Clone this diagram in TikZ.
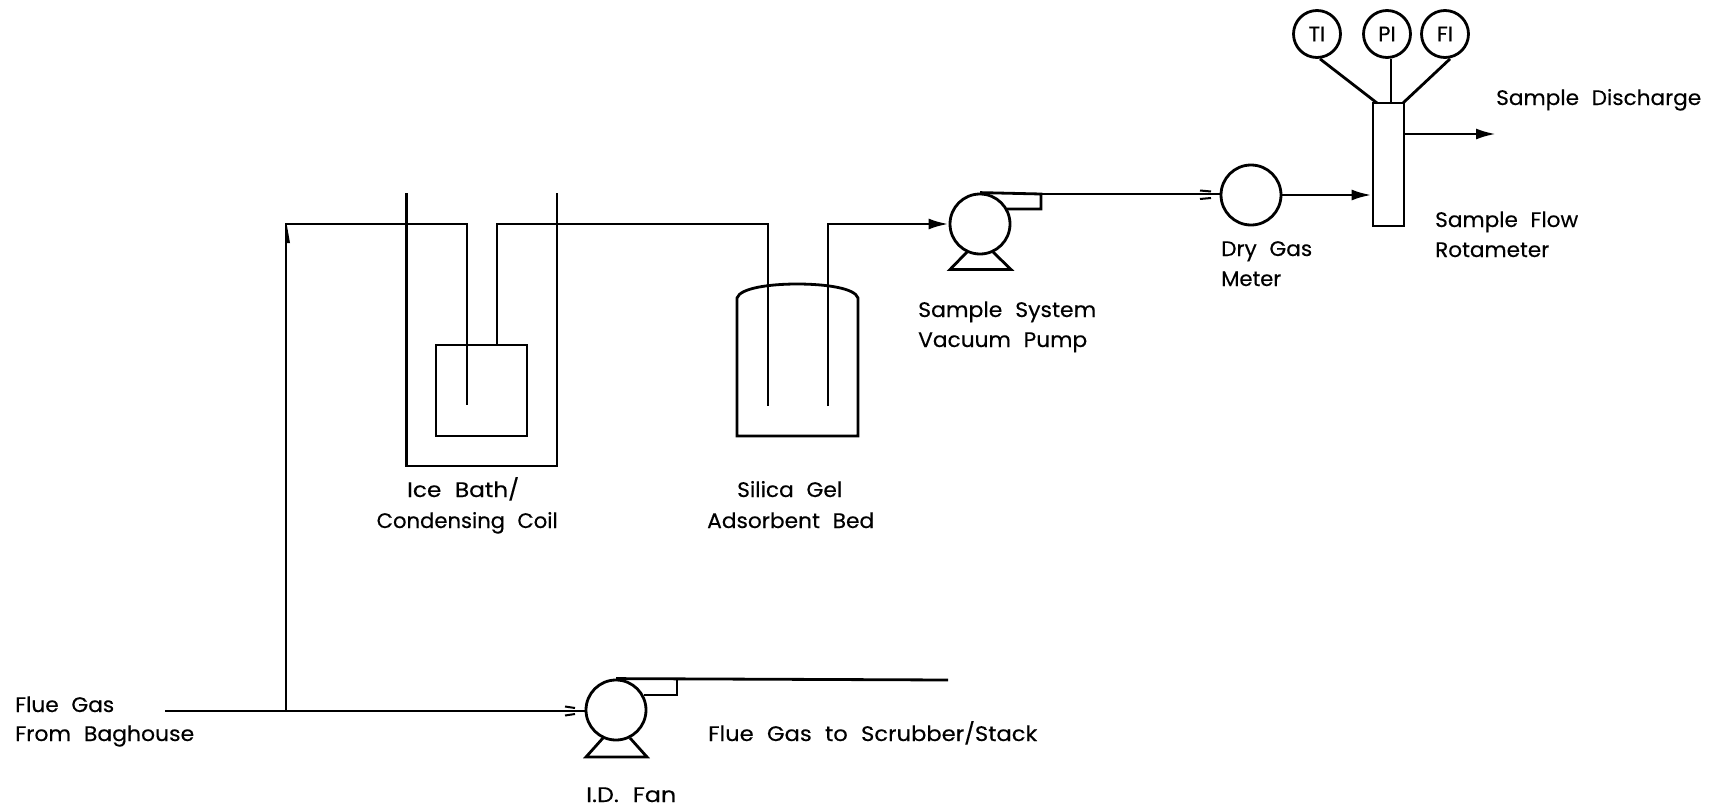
\documentclass[tikz,border=0pt]{standalone}
\usepackage{fontspec}
\setmainfont{Poppins}[WordSpace=2.2,FakeBold=0.35]
\usetikzlibrary{arrows.meta}
\newsavebox{\fitbox}
\newcommand{\fitw}[2]{\sbox{\fitbox}{#2}\pgfmathsetmacro{\fitr}{#1/\the\wd\fitbox}\scalebox{\fitr}[1]{\usebox{\fitbox}}}
\tikzset{
  x=1pt,y=-1pt,
  pipe/.style={draw=black,line width=2.8pt,line join=miter},
  flow/.style={pipe,-{Latex[length=20pt,width=11pt]}},
  tick/.style={draw=black,line width=2pt},
  vessel/.style={circle,draw=black,line width=2.8pt,minimum size=60pt,inner sep=0pt},
  gauge/.style={circle,draw=black,line width=2.8pt,minimum size=47pt,inner sep=0pt,font=\fontsize{21}{23}\selectfont},
  lbl/.style={anchor=base west,inner sep=0pt,font=\fontsize{21}{24}\selectfont},
}
\begin{document}
\begin{tikzpicture}
\useasboundingbox (0,0) rectangle (1722,811);
% equipment
\node[vessel] (pump) at (980,224) {};
\node[vessel] (meter) at (1251,195) {};
\node[vessel] (fan) at (616,710) {};
\node[gauge] (ti) at (1317,34) {TI};
\node[gauge] (pi) at (1387,34) {PI};
\node[gauge] (fi) at (1445,34) {FI};
\node[draw=black,line width=2.8pt,minimum width=31pt,minimum height=123pt,inner sep=0pt] (rota) at (1388.5,164.5) {};
% ice bath
\coordinate (iceTL) at (406.5,193);
\coordinate (iceBL) at (406.5,466);
\coordinate (iceBR) at (557,466);
\coordinate (iceTR) at (557,193);
\draw[pipe] (iceTL) -- (iceBL) -- (iceBR) -- (iceTR);
\node[draw=black,line width=2.8pt,minimum width=91pt,minimum height=91pt,inner sep=0pt] (coil) at (481.5,390.5) {};
% silica bed
\coordinate (bedL) at (737,298);
\coordinate (bedR) at (858,298);
\coordinate (bedBL) at (737,436);
\coordinate (bedBR) at (858,436);
\draw[pipe] (bedBL) -- (bedL) .. controls (740,288) and (770,284) .. (797,284) .. controls (825,284) and (855,288) .. (bedR) -- (bedBR) -- cycle;
% flue line
\coordinate (fstart) at (165,711);
\coordinate (tee) at (286,711);
\coordinate (corner) at (286,224);
\coordinate (coilIn) at (467,224);
\coordinate (coilInEnd) at (467,405);
\coordinate (coilOut) at (497,345);
\coordinate (coilOutTop) at (497,224);
\coordinate (bedInTop) at (768,224);
\coordinate (bedInEnd) at (768,406);
\coordinate (bedOutEnd) at (828,406);
\coordinate (bedOutTop) at (828,224);
\draw[pipe] (fstart) -- (fan.west |- fstart);
\draw[pipe] (tee) -- (corner) -- (coilIn) -- (coilInEnd);
\draw[pipe] (coilOut) -- (coilOutTop) -- (bedInTop) -- (bedInEnd);
\draw[pipe] (bedOutEnd) -- (bedOutTop) -- (840,224);
\draw[flow] (bedOutTop) -- (pump.west);
\fill[black] (287,226) -- (290,243) -- (287,243) -- cycle;
% faint arrow marks
\draw[tick] (565,706.5) -- (575,708);
\draw[tick] (565,715.5) -- (575,714);
\draw[tick] (1200,190.5) -- (1211,191.5);
\draw[tick] (1200,199) -- (1211,198);
% pump outlet
\coordinate (pj) at (1041,194);
\coordinate (pl) at (1041,209);
\coordinate (pk) at (1007,209);
\draw[pipe] (pump.north) -- (pj) -- (pl) -- (pk);
\draw[pipe] (pj) -- (meter.west |- pj);
\draw[flow] (meter.east) -- (rota.west |- meter.east);
% fan outlet
\coordinate (fj) at (677,680);
\coordinate (fl) at (677,695);
\coordinate (fk) at (644,695);
\coordinate (fend) at (948,680);
\draw[pipe] (fan.north) -- (fend);
\draw[pipe] (fj) -- (fl) -- (fk);
% bases
\coordinate (pb1) at (967,252);
\coordinate (pb2) at (950,269.5);
\coordinate (pb3) at (1011,269.5);
\coordinate (pb4) at (993,252);
\draw[pipe] (pb1) -- (pb2) -- (pb3) -- (pb4);
\coordinate (fb1) at (603,738);
\coordinate (fb2) at (586,757);
\coordinate (fb3) at (647,757);
\coordinate (fb4) at (630,738);
\draw[pipe] (fb1) -- (fb2) -- (fb3) -- (fb4);
% instruments
\coordinate (rtl) at (1377,103);
\coordinate (rtr) at (1403,103);
\draw[pipe] (ti.south) ++(3,0) -- (rtl);
\draw[pipe] (pi.south) ++(4,0) -- (1391,103);
\draw[pipe] (fi.south) ++(5,0) -- (rtr);
\coordinate (dis) at (1496,134);
\draw[flow] (rota.east |- dis) -- (dis);
% labels
\node[lbl] (t1) at (1496,105) {\fitw{205}{Sample Discharge}};
\node[lbl] (t2) at (1435,227) {\fitw{143}{Sample Flow}};
\node[lbl] (t3) at (1435,257) {\fitw{114}{Rotameter}};
\node[lbl] (t4) at (1221,256) {\fitw{91}{Dry Gas}};
\node[lbl] (t5) at (1221,286) {\fitw{60}{Meter}};
\node[lbl] (t6) at (918,317) {\fitw{178}{Sample System}};
\node[lbl] (t7) at (918,347) {\fitw{169}{Vacuum Pump}};
\node[lbl] (t8) at (407,497) {\fitw{112}{Ice Bath/}};
\node[lbl] (t9) at (376.5,528) {\fitw{181}{Condensing Coil}};
\node[lbl] (t10) at (737,497) {\fitw{105}{Silica Gel}};
\node[lbl] (t11) at (707,528) {\fitw{167}{Adsorbent Bed}};
\node[lbl] (t12) at (15,712) {\fitw{99}{Flue Gas}};
\node[lbl] (t13) at (15,741) {\fitw{179}{From Baghouse}};
\node[lbl] (t14) at (708,741) {\fitw{329}{Flue Gas to Scrubber/Stack}};
\node[lbl] (t15) at (586,802) {\fitw{90}{I.D. Fan}};
\end{tikzpicture}
\end{document}
